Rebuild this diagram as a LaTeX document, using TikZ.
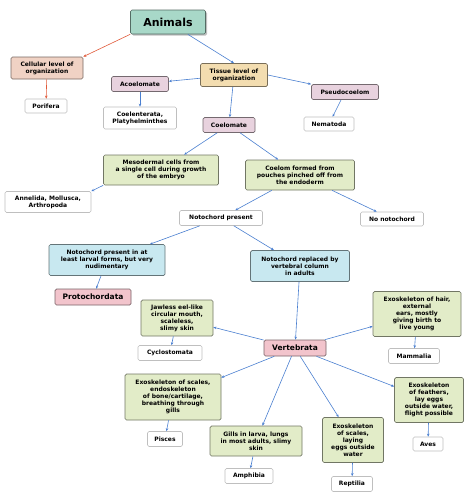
\documentclass[tikz,border=0pt]{standalone}
\usepackage{fontspec}
\setmainfont{DejaVu Sans}
\usetikzlibrary{arrows.meta,shadows}
\definecolor{arr}{HTML}{4A7FD0}
\definecolor{redarr}{HTML}{E05A3A}
\definecolor{teal}{HTML}{A8D8C8}
\definecolor{peach}{HTML}{F0D2C4}
\definecolor{tan}{HTML}{F3DDB0}
\definecolor{mauve}{HTML}{E8D2DE}
\definecolor{grn}{HTML}{E2ECC8}
\definecolor{blu}{HTML}{C8E8F0}
\definecolor{rose}{HTML}{F2C4CC}
\begin{document}
\begin{tikzpicture}[x=1pt,y=-1pt,
  b/.style={draw=#1!50!black,rounded corners=1.5pt,line width=0.7pt,align=center,inner sep=1pt,font=\bfseries\fontsize{6}{7}\selectfont},
  box/.style n args={4}{b=#1,fill=#1,minimum width=#2,minimum height=#3},
  wb/.style 2 args={draw=black!25,fill=white,rounded corners=1.5pt,line width=0.6pt,align=center,inner sep=1pt,font=\bfseries\fontsize{6}{7}\selectfont,minimum width=#1,minimum height=#2},
  a/.style={draw=arr,line width=0.6pt,-{Stealth[length=3pt,width=2.5pt]}},
  r/.style={draw=redarr,line width=0.6pt,-{Stealth[length=3pt,width=2.5pt]}}]
\useasboundingbox (0,0) rectangle (474,496);
\node[b=teal,fill=teal,minimum width=75,minimum height=24,font=\bfseries\fontsize{11}{12}\selectfont,drop shadow={shadow xshift=1.5pt,shadow yshift=-1.5pt,fill=black!50}] (animals) at (168,22) {Animals};
\node[box={peach}{72}{22}{}] (cell) at (47,68) {Cellular level of\\organization};
\node[wb={42}{14}] (porifera) at (46,106) {Porifera};
\node[box={tan}{67}{23}{}] (tissue) at (234,75) {Tissue level of\\organization};
\node[box={mauve}{57}{15}{}] (acoel) at (140,84) {Acoelomate};
\node[wb={73}{22}] (coelent) at (140,118) {Coelenterata,\\Platyhelminthes};
\node[box={mauve}{67}{15}{}] (pseudo) at (345,92) {Pseudocoelom};
\node[wb={50}{14}] (nema) at (329,124) {Nematoda};
\node[box={mauve}{52}{15}{}] (coelom) at (229,125) {Coelomate};
\node[box={grn}{115}{30}{}] (meso) at (161,170) {Mesodermal cells from\\a single cell during growth\\of the embryo};
\node[box={grn}{109}{30}{}] (pouch) at (300,175) {Coelom formed from\\pouches pinched off from\\the endoderm};
\node[wb={86}{21}] (annel) at (48,202) {Annelida, Mollusca,\\Arthropoda};
\node[wb={83}{15}] (notop) at (221,218) {Notochord present};
\node[wb={63}{14}] (nonoto) at (392,219) {No notochord};
\node[box={blu}{116}{31}{}] (larval) at (107,260) {Notochord present in at\\least larval forms, but very\\nudimentary};
\node[box={rose}{76}{16}{},font=\bfseries\fontsize{7.5}{9}\selectfont] (proto) at (93,297) {Protochordata};
\node[box={blu}{99}{31}{}] (repl) at (300,266) {Notochord replaced by\\vertebral column\\in adults};
\node[box={rose}{62}{16}{},font=\bfseries\fontsize{7.5}{9}\selectfont] (vert) at (295,348) {Vertebrata};
\node[box={grn}{72}{36}{}] (jaw) at (177,318) {Jawless eel-like\\circular mouth,\\scaleless,\\slimy skin};
\node[wb={64}{15}] (cyclo) at (170,353) {Cyclostomata};
\node[box={grn}{88}{45}{}] (hair) at (417,314) {Exoskeleton of hair,\\external\\ears, mostly\\giving birth to\\live young};
\node[wb={51}{15}] (mamm) at (414,356) {Mammalia};
\node[box={grn}{96}{46}{}] (fish) at (173,397) {Exoskeleton of scales,\\endoskeleton\\of bone/cartilage,\\breathing through\\gills};
\node[wb={35}{15}] (pisces) at (165,439) {Pisces};
\node[box={grn}{92}{30}{}] (gills) at (256,441) {Gills in larva, lungs\\in most adults, slimy\\skin};
\node[wb={48}{15}] (amph) at (249,476) {Amphibia};
\node[box={grn}{61}{45}{}] (rept) at (353,440) {Exoskeleton\\of scales,\\laying\\eggs outside\\water};
\node[wb={41}{15}] (reptilia) at (352,484) {Reptilia};
\node[box={grn}{69}{45}{}] (feath) at (429,400) {Exoskeleton\\of feathers,\\lay eggs\\outside water,\\flight possible};
\node[wb={30}{14}] (aves) at (428,444) {Aves};
\draw[r] (animals.south west) -- (cell.north east);
\draw[r] (cell) -- (porifera);
\draw[a] (animals.south east)++(-18,0) -- (tissue.north);
\draw[a] (tissue) -- (acoel);
\draw[a] (tissue.east) -- (pseudo.north west);
\draw[a] (tissue) -- (coelom);
\draw[a] (acoel) -- (coelent);
\draw[a] (pseudo) -- (nema);
\draw[a] (coelom) -- (meso);
\draw[a] (coelom) -- (pouch);
\draw[a] (meso.south west) -- (annel.north east);
\draw[a] (pouch) -- (notop);
\draw[a] (pouch) -- (nonoto);
\draw[a] (notop) -- (larval);
\draw[a] (notop) -- (repl);
\draw[a] (larval) -- (proto);
\draw[a] (repl) -- (vert);
\draw[a] (vert) -- (jaw);
\draw[a] (vert) -- (hair);
\draw[a] (vert) -- (fish);
\draw[a] (vert) -- (gills);
\draw[a] (vert) -- (rept);
\draw[a] (vert) -- (feath);
\draw[a] (jaw) -- (cyclo);
\draw[a] (hair) -- (mamm);
\draw[a] (fish) -- (pisces);
\draw[a] (gills) -- (amph);
\draw[a] (rept) -- (reptilia);
\draw[a] (feath) -- (aves);
\end{tikzpicture}
\end{document}
